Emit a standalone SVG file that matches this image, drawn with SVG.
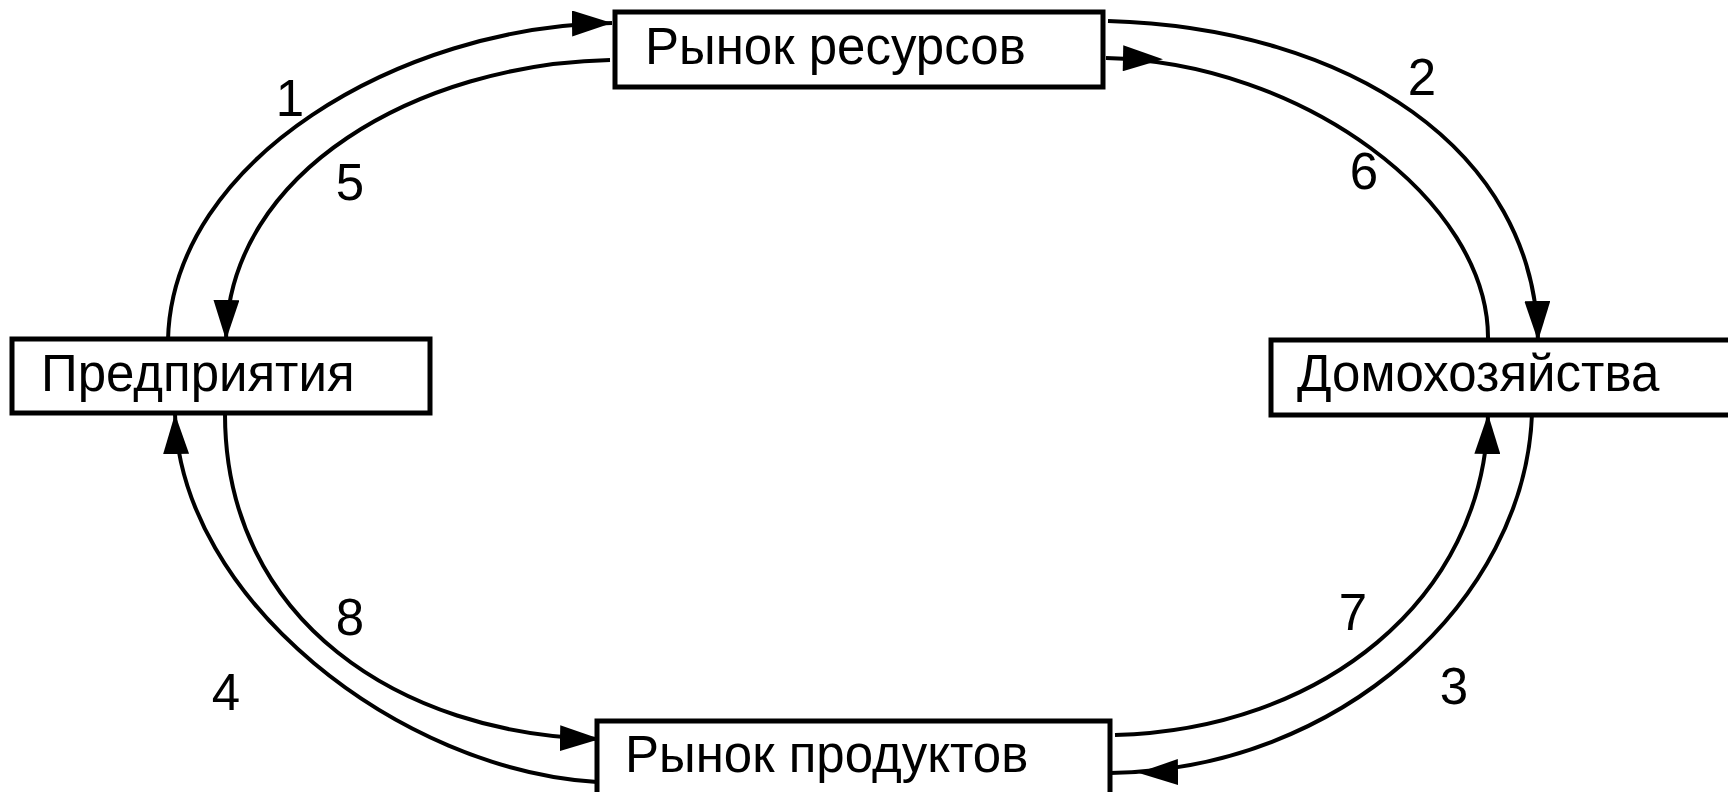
<svg xmlns="http://www.w3.org/2000/svg" width="1728" height="792" viewBox="0 0 1728 792">
<style>
.box{fill:#fff;stroke:#000;stroke-width:5}
.lbl{font-family:"Liberation Sans",Arial,sans-serif;font-size:51px;fill:#000}
.num{font-family:"Liberation Sans",Arial,sans-serif;font-size:51px;fill:#000;text-anchor:middle}
.con{fill:none;stroke:#000;stroke-width:4}
</style>
<defs>
<marker id="arr" markerUnits="userSpaceOnUse" viewBox="0 0 40 26" markerWidth="40" markerHeight="26" refX="40" refY="13" orient="auto">
<path d="M0,0 L40,13 L0,26 Z" fill="#000"/>
</marker>
<marker id="arrOff" markerUnits="userSpaceOnUse" viewBox="0 0 110 26" markerWidth="110" markerHeight="26" refX="68" refY="13" orient="auto">
<path d="M0,0 L40,13 L0,26 Z" fill="#000"/>
</marker>
<marker id="arrStart" markerUnits="userSpaceOnUse" viewBox="-20 0 60 26" markerWidth="60" markerHeight="26" refX="-17" refY="13" orient="auto">
<path d="M0,0 L40,13 L0,26 Z" fill="#000"/>
</marker>
</defs>
<rect width="1728" height="792" fill="#fff"/>
<g id="connectors">
<path id="c1" class="con" d="M168,340 C172,160 400,26 612,23" marker-end="url(#arr)"/>
<path id="c5" class="con" d="M610,60 C420,64 228,170 226,340" marker-end="url(#arr)"/>
<path id="c2" class="con" d="M1108,21 C1350,28 1535,150 1538,341" marker-end="url(#arr)"/>
<path id="c6" class="con" d="M1106,58 C1300,62 1490,200 1488,340" marker-start="url(#arrStart)"/>
<path id="c7" class="con" d="M1115,735 C1320,730 1485,600 1488,414" marker-end="url(#arr)"/>
<path id="c3" class="con" d="M1532,414 C1525,600 1340,770 1110,773" marker-end="url(#arrOff)"/>
<path id="c8" class="con" d="M225,414 C225,620 400,735 600,739" marker-end="url(#arr)"/>
<path id="c4" class="con" d="M597,782 C400,770 180,600 175,414" marker-end="url(#arr)"/>
</g>
<g id="node-resource-market">
<rect class="box" x="615" y="12" width="488" height="75"/>
<text class="lbl" x="645" y="64">Рынок ресурсов</text>
</g>
<g id="node-firms">
<rect class="box" x="12" y="339" width="418" height="74"/>
<text class="lbl" x="41" y="391">Предприятия</text>
</g>
<g id="node-households">
<rect class="box" x="1271" y="340" width="470" height="75"/>
<text class="lbl" x="1297" y="391">Домохозяйства</text>
</g>
<g id="node-product-market">
<rect class="box" x="597" y="721" width="513" height="90"/>
<text class="lbl" x="625" y="772">Рынок продуктов</text>
</g>
<g id="labels">
<text class="num" x="290" y="116">1</text>
<text class="num" x="350" y="200">5</text>
<text class="num" x="1422" y="95">2</text>
<text class="num" x="1364" y="189">6</text>
<text class="num" x="350" y="635">8</text>
<text class="num" x="226" y="710">4</text>
<text class="num" x="1353" y="630">7</text>
<text class="num" x="1454" y="704">3</text>
</g>
</svg>
